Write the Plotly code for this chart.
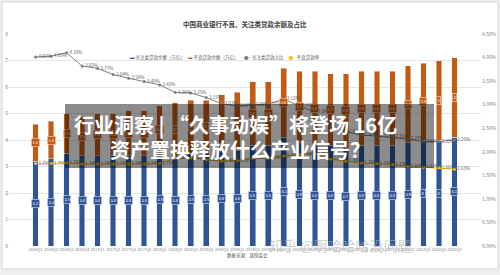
import plotly.graph_objects as go

quarters = ["2016Q1","2016Q2","2016Q3","2016Q4","2017Q1","2017Q2","2017Q3","2017Q4",
            "2018Q1","2018Q2","2018Q3","2018Q4","2019Q1","2019Q2","2019Q3","2019Q4",
            "2020Q1","2020Q2","2020Q3","2020Q4","2021Q1","2021Q2","2021Q3","2021Q4",
            "2022Q1","2022Q2","2022Q3","2022Q4"]
attention_balance = [3.2,3.3,3.5,3.4,3.4,3.4,3.4,3.4,3.5,3.4,3.5,3.5,3.6,3.6,
                     3.8,3.8,4.1,3.9,3.8,3.8,3.7,3.8,3.8,3.8,3.9,4.0,4.0,4.1]
npl_balance = [1.4,1.4,1.5,1.5,1.6,1.6,1.7,1.7,1.8,2.0,2.0,2.0,2.1,2.2,
               2.4,2.4,2.6,2.7,2.8,2.7,2.8,2.8,2.8,2.8,2.9,2.9,3.0,3.0]
attention_ratio = [4.01,4.03,4.10,3.82,3.77,3.64,3.56,3.49,3.42,3.26,3.25,3.15,3.02,2.97,
                   3.00,3.01,3.12,2.97,2.84,2.57,2.42,2.36,2.33,2.31,2.27,2.22,2.22,2.25]
npl_ratio = [1.75,1.75,1.76,1.74,1.74,1.74,1.74,1.74,1.75,1.86,1.87,1.83,1.80,1.81,
             1.86,1.86,1.91,1.94,1.96,1.84,1.80,1.76,1.75,1.73,1.69,1.67,1.66,1.63]

BLUE = "#2F5597"
ORANGE = "#C55A11"
GRAY = "#7F7F7F"
YELLOW = "#FFC000"
CJK = "Noto Sans CJK SC, Noto Sans, sans-serif"

fig = go.Figure()
fig.add_trace(go.Bar(x=quarters, y=attention_balance, name="关注类贷款余额（万亿）",
                     marker_color=BLUE, width=0.36, showlegend=False))
fig.add_trace(go.Bar(x=quarters, y=npl_balance, name="不良贷款余额（万亿）",
                     marker_color=ORANGE, width=0.36, showlegend=False))
fig.add_trace(go.Scatter(x=quarters, y=[v / 100 for v in attention_ratio], yaxis="y2",
                         name="关注类贷款占比", mode="lines+markers+text",
                         line=dict(color=GRAY, width=1), marker=dict(size=3, color=GRAY),
                         text=[f"{v:.2f}%" for v in attention_ratio], textposition="middle right",
                         textfont=dict(size=4.5, color="#595959", family=CJK), showlegend=False))
fig.add_trace(go.Scatter(x=quarters, y=[v / 100 for v in npl_ratio], yaxis="y2",
                         name="不良贷款率", mode="lines+markers+text",
                         line=dict(color=YELLOW, width=1), marker=dict(size=3, color=YELLOW),
                         text=[f"{v:.2f}%" for v in npl_ratio], textposition="middle right",
                         textfont=dict(size=4.5, color="#595959", family=CJK), showlegend=False))

annotations = []
for q, b, o in zip(quarters, attention_balance, npl_balance):
    annotations.append(dict(x=q, y=b / 2, xref="x", yref="y", text=f"{b:g}", showarrow=False,
                            font=dict(size=4, color="white", family=CJK), bgcolor=BLUE,
                            bordercolor="#DDE3EE", borderwidth=0.6, borderpad=0.8))
    annotations.append(dict(x=q, y=b + o / 2, xref="x", yref="y", text=f"{o:g}", showarrow=False,
                            font=dict(size=4, color="white", family=CJK), bgcolor=ORANGE,
                            bordercolor="#F3DCCB", borderwidth=0.6, borderpad=0.8))

# title
annotations.append(dict(x=0.501, y=1.08, xref="paper", yref="paper", showarrow=False,
                        text="<b>中国商业银行不良、关注类贷款余额及占比</b>",
                        font=dict(size=6.5, color="#404040", family=CJK)))
# legend
legend_text = (f'<span style="color:{BLUE}">▬</span> 关注类贷款余额（万亿）   '
               f'<span style="color:{ORANGE}">▬</span> 不良贷款余额（万亿）   '
               f'<span style="color:{GRAY}">–●–</span> 关注类贷款占比   '
               f'<span style="color:{YELLOW}">–●–</span> 不良贷款率')
annotations.append(dict(x=0.4576, y=0.915, xref="paper", yref="paper", showarrow=False,
                        text=legend_text, font=dict(size=4.5, color="#595959", family=CJK)))
# source
annotations.append(dict(x=0.506, y=-0.071, xref="paper", yref="paper", showarrow=False,
                        text="数据来源：银保监会", font=dict(size=4.5, color="#595959", family=CJK)))
# watermark
annotations.append(dict(x=0.855, y=-0.05, xref="paper", yref="paper", showarrow=False,
                        text="知乎 @啊哈哈哈没问题",
                        font=dict(size=14, color="rgba(175,175,175,0.6)", family=CJK)))
# banner box
annotations.append(dict(x=0.5095, y=0.519, xref="paper", yref="paper", showarrow=False,
                        text=" ", width=369, height=64, bgcolor="rgba(0,0,0,0.45)",
                        borderpad=0, borderwidth=0, xanchor="center", yanchor="middle"))
annotations.append(dict(x=0.479, y=0.571, xref="paper", yref="paper", showarrow=False,
                        text="<b>行业洞察 | “久事动娱”将登场 16亿</b>",
                        font=dict(size=20, color="white", family=CJK)))
annotations.append(dict(x=0.489, y=0.453, xref="paper", yref="paper", showarrow=False,
                        text="<b>资产置换释放什么产业信号？</b>",
                        font=dict(size=20, color="white", family=CJK)))

fig.update_layout(
    width=500, height=275,
    margin=dict(l=9, r=19, t=34, b=29),
    barmode="stack",
    paper_bgcolor="#EFEFEF",
    plot_bgcolor="rgba(0,0,0,0)",
    font=dict(family=CJK),
    xaxis=dict(type="category", tickmode="array", tickvals=quarters, ticktext=quarters,
               tickangle=0, tickfont=dict(size=4, color="#808080"), showgrid=False,
               automargin=False, showline=False, ticks=""),
    yaxis=dict(range=[0, 8], dtick=1, gridcolor="#E6E6E6", gridwidth=0.7, zeroline=False,
               tickfont=dict(size=5, color="#808080"), automargin=False, ticks="",
               ticklabelstandoff=0),
    yaxis2=dict(range=[0, 0.045], dtick=0.005, tickformat=".2%", overlaying="y", side="right",
                showgrid=False, zeroline=False, tickfont=dict(size=5, color="#808080"),
                automargin=False, ticks=""),
    annotations=annotations,
    shapes=[dict(type="rect", xref="paper", yref="paper", x0=-0.0148, x1=1.036,
                 y0=-0.108, y1=1.151, fillcolor="white", line=dict(color="#D6D6D6", width=1),
                 layer="below")],
)

fig.write_html("out.html")
